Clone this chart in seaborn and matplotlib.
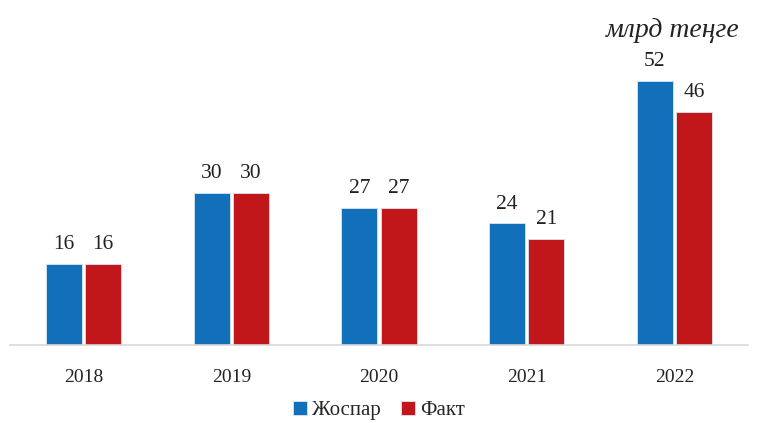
import pandas as pd
import matplotlib
matplotlib.use('Agg')
import matplotlib.pyplot as plt
import seaborn as sns

# Data
years = ['2018', '2019', '2020', '2021', '2022']
plan = [16, 30, 27, 24, 52]
fact = [16, 30, 27, 21, 46]
series_names = ['Жоспар', 'Факт']
unit_label = 'млрд теңге'

df = pd.DataFrame({
    'year': years * 2,
    'value': plan + fact,
    'series': [series_names[0]] * len(years) + [series_names[1]] * len(years),
})

sns.set_theme(style='white')
plt.rcParams['font.family'] = ['Liberation Serif', 'DejaVu Serif']

fig = plt.figure(figsize=(7.58, 4.23), dpi=100)
ax = fig.add_axes([0.013, 0.184, 0.974, 0.816])

palette = {'Жоспар': '#1170b9', 'Факт': '#c1171b'}
sns.barplot(data=df, x='year', y='value', hue='series', palette=palette,
            width=0.53, gap=0.08, saturation=1, edgecolor='#d8e6f2',
            linewidth=0.6, ax=ax, legend=True)

for cont in ax.containers:
    ax.bar_label(cont, padding=7, fontsize=15.5, color='#222222')

ax.set_ylim(0, 68)
ax.set_xlim(-0.5, 4.5)
ax.set_xlabel('')
ax.set_ylabel('')
ax.set_yticks([])
ax.tick_params(axis='x', length=0, labelsize=14, pad=17, colors='#222222')
for side in ['left', 'right', 'top']:
    ax.spines[side].set_visible(False)
ax.spines['bottom'].set_color('#d9d9d9')
ax.spines['bottom'].set_linewidth(1.2)

ax.legend(loc='center', bbox_to_anchor=(0.5, -0.19), ncol=2, frameon=False,
          fontsize=15, handlelength=0.65, handleheight=0.65, handletextpad=0.25,
          columnspacing=1.0)

fig.text(0.887, 0.927, unit_label, fontsize=20, style='italic', ha='center',
         va='center', color='#222222')

fig.savefig('out.png', dpi=100)
